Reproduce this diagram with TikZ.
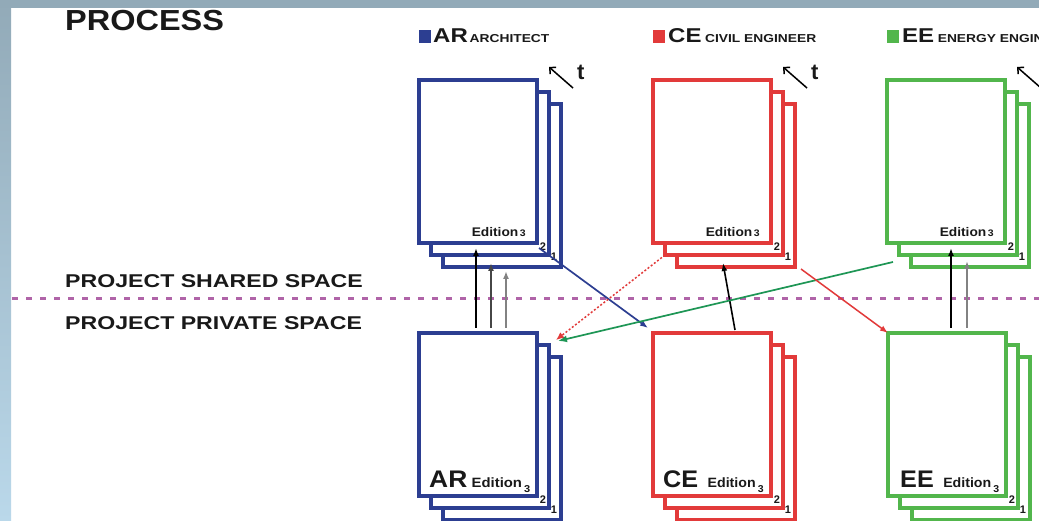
\documentclass[tikz,border=0pt]{standalone}
\usepackage{fontspec}
\setmainfont{Liberation Sans}
\usepackage{graphicx}
\usetikzlibrary{arrows.meta,calc}
\definecolor{arB}{RGB}{44,62,145}
\definecolor{ceR}{RGB}{226,58,58}
\definecolor{eeG}{RGB}{82,182,76}
\definecolor{lnkG}{RGB}{30,150,85}
\definecolor{dashc}{RGB}{176,100,168}
\definecolor{bandT}{RGB}{146,170,184}
\definecolor{bandB}{RGB}{186,216,234}
\definecolor{txtc}{RGB}{25,25,25}
\definecolor{grA}{RGB}{70,70,70}
\definecolor{grB}{RGB}{130,130,130}
\newcommand\hsq[2][1.25]{\scalebox{#1}[1]{#2}}
\newcommand\fs[1]{\fontsize{#1}{#1}\selectfont}
\newcommand\mkstack[4]{%
  \node[sheet=#4] (#1-1) at ({#2+24},{#3+24}) {};
  \node[sheet=#4] (#1-2) at ({#2+12},{#3+12}) {};
  \node[sheet=#4] (#1-3) at (#2,#3) {};
  \node[num] (#1-n2) at ($(#1-3.south east)+(6,4)$) {2};
  \node[num] (#1-n1) at ($(#1-3.south east)+(17,14)$) {1};
}
\begin{document}
\begin{tikzpicture}[x=1pt,y=-1pt,
  sheet/.style={draw=#1, line width=3.4pt, fill=white, minimum width=118pt,
    minimum height=163pt, inner sep=0pt, outer sep=0pt, anchor=north west},
  num/.style={font=\bfseries\fs{11}, text=txtc, inner sep=0pt},
  txt/.style={font=\bfseries, text=txtc, inner sep=0pt, anchor=base west},
  sq/.style={fill=#1, minimum width=12pt, minimum height=13pt, inner sep=0pt, anchor=north west},
  varr/.style={line width=1.6pt, -{Latex[length=8pt,width=6pt]}},
  tarr/.style={line width=1.5pt, -{Straight Barb[length=4.5pt,width=9pt]}},
]
\useasboundingbox (0,0) rectangle (1039,521);
\clip (0,0) rectangle (1039,521);
\fill[white] (0,0) rectangle (1039,521);
\shade[top color=bandT, bottom color=bandB] (0,0) rectangle (11,521);
\fill[bandT] (0,0) rectangle (1039,8);

% titles
\node[txt] (title) at (65,31) {\hsq[1.12]{\fs{29}PROCESS}};
\node[txt] (shared) at (65,288) {\hsq[1.25]{\fs{18.5}PROJECT SHARED SPACE}};
\node[txt] (private) at (65,330) {\hsq[1.25]{\fs{18.5}PROJECT PRIVATE SPACE}};

% dashed divider
\draw[dashc, line width=3pt, dash pattern=on 6pt off 8pt] (12,299) -- (1039,299);

% legend
\node[sq=arB] (sqAR) at (419,30) {};
\node[txt] (legAR) at (433,43) {\hsq[1.2]{\fs{20}AR\hspace{1.5pt}\fs{11.5}ARCHITECT}};
\node[sq=ceR] (sqCE) at (653,30) {};
\node[txt] (legCE) at (668,43) {\hsq[1.2]{\fs{20}CE\hspace{3pt}\fs{11.5}CIVIL ENGINEER}};
\node[sq=eeG] (sqEE) at (887,30) {};
\node[txt] (legEE) at (902,43) {\hsq[1.2]{\fs{20}EE\hspace{3pt}\fs{11.5}ENERGY ENGINEER}};

% stacks
\mkstack{ARu}{419}{80}{arB}
\mkstack{CEu}{653}{80}{ceR}
\mkstack{EEu}{887}{80}{eeG}
\mkstack{ARl}{419}{333}{arB}
\mkstack{CEl}{653}{333}{ceR}
\mkstack{EEl}{888}{333}{eeG}

% upper edition labels
\foreach \s in {ARu,CEu,EEu}{
  \node[txt, anchor=base east] (\s-ed) at ($(\s-3.south east)+(-11,-6)$)
    {\hsq[1.1]{\fs{12.5}Edition\hspace{1.5pt}\fs{9.5}3}};
}
% lower edition labels
\node[txt] (ARl-ed) at ($(ARl-3.south west)+(10,-9)$)
  {\hsq[1.1]{\fs{24}AR\hspace{4pt}\fs{13.5}Edition\hspace{2pt}\raisebox{-5pt}{\fs{10}3}}};
\node[txt] (CEl-ed) at ($(CEl-3.south west)+(10,-9)$)
  {\hsq[1.05]{\fs{24}CE\hspace{9pt}\fs{13.5}Edition\hspace{2pt}\raisebox{-5pt}{\fs{10}3}}};
\node[txt] (EEl-ed) at ($(EEl-3.south west)+(12,-9)$)
  {\hsq[1.05]{\fs{24}EE\hspace{9pt}\fs{13.5}Edition\hspace{2pt}\raisebox{-5pt}{\fs{10}3}}};

% time arrows
\foreach \s in {ARu,CEu,EEu}{
  \coordinate (\s-ta) at ($(\s-3.north east)+(36,8)$);
  \coordinate (\s-tb) at ($(\s-3.north east)+(12,-13)$);
  \draw[tarr] (\s-ta) -- (\s-tb);
  \node[txt, anchor=base west] (\s-t) at ($(\s-3.north east)+(40,0)$) {\fs{22}t};
}

% vertical publish arrows AR
\draw[varr, black] ($(ARl-3.north west)+(57,-5)$) -- ($(ARu-3.south west)+(57,5)$);
\draw[varr, grA]   ($(ARl-3.north west)+(72,-5)$) -- ($(ARu-1.south west)+(48,-4)$);
\draw[varr, grB]   ($(ARl-3.north west)+(87,-5)$) -- ($(ARu-1.south west)+(63,4)$);
% EE
\draw[varr, black] ($(EEl-3.north west)+(63,-5)$) -- ($(EEu-3.south west)+(64,5)$);
\draw[varr, grB]   ($(EEl-3.north west)+(79,-5)$) -- ($(EEu-1.south west)+(56,-6)$);
% CE up
\draw[varr, black] ($(CEl-3.north west)+(82,-3)$) -- ($(CEu-1.south west)+(46,-4)$);

% cross links
\draw[line width=1.7pt, arB, -{Latex[length=8pt,width=6pt]}]
  ($(ARu-3.south east)+(2,5)$) -- ($(CEl-3.north west)+(-5,-5)$);
\draw[line width=1.5pt, ceR, dash pattern=on 2pt off 2pt, -{Latex[length=8pt,width=7pt]}]
  (CEu-2.south west) -- ($(ARl-2.north east)+(7,-5)$);
\draw[line width=1.7pt, lnkG, -{Latex[length=9pt,width=7pt]}]
  ($(EEu-1.south west)+(-18,-5)$) -- ($(ARl-2.north east)+(9,-4)$);
\draw[line width=1.5pt, ceR, -{Latex[length=8pt,width=6pt]}]
  ($(CEu-1.south east)+(6,2)$) -- (EEl-3.north west);
\end{tikzpicture}
\end{document}
